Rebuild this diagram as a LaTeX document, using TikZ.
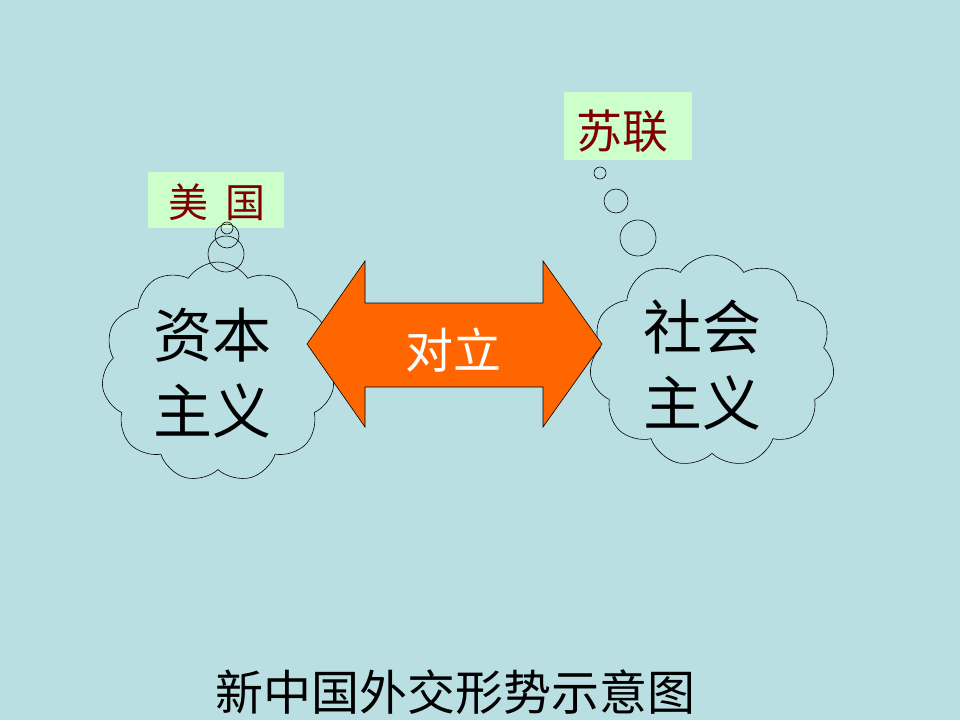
\documentclass[tikz,border=0pt]{standalone}
\usepackage{fontspec}
\setmainfont{Liberation Serif}
\newfontfamily\cjk{Noto Sans CJK SC}[Scale=1]
\usetikzlibrary{shapes.symbols}
\definecolor{bg}{RGB}{186,223,227}
\definecolor{arrowfill}{RGB}{255,102,0}
\definecolor{labelfill}{RGB}{204,255,204}
\definecolor{labeltext}{RGB}{128,0,0}
\tikzset{
  thought/.style={cloud, draw=black, line width=0.6pt, cloud puffs=11, cloud puff arc=115, inner sep=0pt},
  bubble/.style={circle, draw=black, line width=0.6pt, inner sep=0pt},
  bigtext/.style={font=\cjk\fontsize{59}{76}\selectfont, align=center, text=black, inner sep=0pt},
  tag/.style={fill=labelfill, text=labeltext, font=\cjk\fontsize{40}{42}\selectfont, inner sep=0pt, anchor=center},
  opposite/.style={fill=arrowfill, draw=black, line width=0.6pt, line join=miter},
}
\begin{document}
\begin{tikzpicture}[x=1pt,y=-1pt]
\fill[bg] (0,0) rectangle (960,720);
\useasboundingbox (0,0) rectangle (960,720);

% clouds
\node[thought, minimum width=233pt, minimum height=220pt] (capc) at (218,372) {};
\node[thought, minimum width=245pt, minimum height=212pt] (socc) at (712,361) {};

% cloud texts
\node[bigtext] (capt) at (212,373) {资本\\主义};
\node[bigtext] (soct) at (702,365) {社会\\主义};

% double arrow
\draw[opposite] (307,344) -- (365,261) -- (365,303) -- (543,303) -- (543,261) -- (602,344)
  -- (543,427) -- (543,387) -- (365,387) -- (365,427) -- cycle;
\node[font=\cjk\fontsize{48}{50}\selectfont, text=white, inner sep=0pt] (opp) at (453,350) {对立};

% left label and bubbles
\fill[labelfill] (148,172) rectangle (284,228);
\node[tag] (usa) at (217,202) {美\hspace{0.45em}国};
\node[bubble, minimum size=36pt] (lb3) at (226,254) {};
\node[bubble, minimum size=24pt] (lb2) at (227,236) {};
\node[bubble, minimum size=12pt] (lb1) at (227,228) {};

% right label and bubbles
\fill[labelfill] (564,92) rectangle (692,160);
\node[tag, font=\cjk\fontsize{46}{48}\selectfont] (ussr) at (622,131) {苏联};
\node[bubble, minimum size=12pt] (rb1) at (600,173) {};
\node[bubble, minimum size=24pt] (rb2) at (616,201) {};
\node[bubble, minimum size=36pt] (rb3) at (638,238) {};

% title
\node[font=\cjk\fontsize{48}{50}\selectfont, text=black, inner sep=0pt] (title) at (455,692) {新中国外交形势示意图};
\end{tikzpicture}
\end{document}
